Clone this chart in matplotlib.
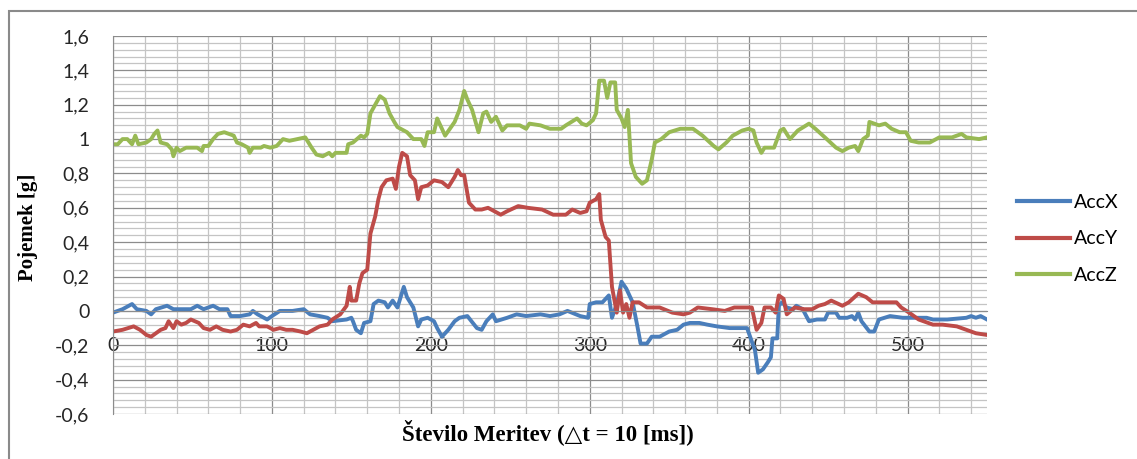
import matplotlib
matplotlib.use('Agg')
import matplotlib.pyplot as plt
from matplotlib.ticker import MultipleLocator, FuncFormatter
from matplotlib.patches import Rectangle

# vrednosti odčitane iz slike (indeks meritve, pospešek v g)
accx_idx = [0, 6, 12, 15, 21, 24, 27, 34, 38, 44, 49, 53, 57, 63, 67, 72, 74, 80, 86, 88,
            91, 97, 100, 105, 113, 120, 124, 130, 135, 138, 147, 150, 151, 153, 156, 158, 162, 164, 167, 171,
            173, 176, 179, 183, 185, 189, 192, 194, 198, 202, 204, 207, 211, 215, 218, 223, 229, 232, 235, 239,
            241, 248, 254, 260, 269, 275, 281, 286, 294, 299, 300, 304, 308, 312, 314, 317, 320, 323, 327, 330,
            332, 336, 339, 344, 350, 355, 359, 363, 369, 374, 380, 388, 399, 404, 406, 409, 412, 414, 415, 418,
            419, 421, 424, 428, 430, 434, 438, 443, 448, 450, 455, 457, 462, 465, 467, 469, 471, 476, 479, 482,
            489, 497, 512, 516, 525, 537, 540, 543, 546, 550]
accx = [-0.01, 0.01, 0.04, 0.01, 0.0, -0.02, 0.01, 0.03, 0.01, 0.01, 0.01, 0.03, 0.01, 0.03, 0.01, 0.01, -0.03, -0.03, -0.02, 0.0,
        -0.02, -0.05, -0.03, 0.0, 0.0, 0.01, -0.02, -0.03, -0.04, -0.06, -0.05, -0.04, -0.06, -0.11, -0.13, -0.07, -0.06, 0.04, 0.06, 0.05,
        0.02, 0.06, 0.02, 0.14, 0.08, 0.02, -0.09, -0.05, -0.04, -0.06, -0.10, -0.15, -0.11, -0.06, -0.04, -0.03, -0.10, -0.11, -0.06, -0.02,
        -0.06, -0.04, -0.02, -0.03, -0.02, -0.03, -0.02, 0.0, -0.03, -0.04, 0.04, 0.05, 0.05, 0.09, -0.04, 0.04, 0.17, 0.13, 0.05, -0.09,
        -0.19, -0.19, -0.15, -0.15, -0.12, -0.11, -0.08, -0.07, -0.07, -0.08, -0.09, -0.10, -0.10, -0.23, -0.36, -0.34, -0.30, -0.27, -0.16, -0.16,
        0.03, 0.05, 0.02, 0.01, 0.03, 0.01, -0.06, -0.05, -0.05, -0.01, -0.01, -0.04, -0.04, -0.03, -0.05, -0.01, -0.06, -0.12, -0.12, -0.05,
        -0.03, -0.04, -0.04, -0.05, -0.05, -0.04, -0.03, -0.04, -0.03, -0.05]

accy_idx = [0, 6, 13, 17, 21, 24, 27, 30, 33, 35, 38, 40, 43, 46, 49, 54, 57, 61, 65, 69,
            74, 78, 82, 86, 90, 92, 97, 101, 105, 109, 113, 118, 122, 126, 130, 135, 138, 143, 147, 149,
            150, 153, 155, 157, 160, 162, 165, 167, 169, 172, 176, 178, 180, 182, 185, 187, 190, 192, 194, 198,
            202, 207, 211, 215, 217, 219, 221, 224, 228, 232, 236, 240, 244, 248, 255, 261, 270, 277, 285, 289,
            294, 298, 300, 304, 306, 307, 310, 312, 314, 317, 319, 321, 323, 325, 327, 331, 336, 344, 352, 359,
            363, 368, 377, 385, 391, 399, 402, 405, 408, 410, 414, 417, 419, 422, 424, 429, 435, 440, 444, 448,
            452, 459, 463, 469, 474, 478, 484, 493, 496, 501, 507, 516, 522, 531, 537, 543, 550]
accy = [-0.12, -0.11, -0.09, -0.11, -0.14, -0.15, -0.13, -0.11, -0.10, -0.06, -0.10, -0.06, -0.08, -0.07, -0.05, -0.07, -0.10, -0.11, -0.09, -0.11,
        -0.12, -0.11, -0.08, -0.09, -0.07, -0.09, -0.09, -0.11, -0.10, -0.11, -0.11, -0.12, -0.13, -0.11, -0.09, -0.08, -0.05, -0.02, 0.03, 0.14,
        0.06, 0.06, 0.16, 0.22, 0.24, 0.45, 0.55, 0.65, 0.72, 0.76, 0.77, 0.71, 0.84, 0.92, 0.90, 0.79, 0.76, 0.65, 0.72, 0.73,
        0.76, 0.75, 0.72, 0.78, 0.82, 0.79, 0.79, 0.63, 0.59, 0.59, 0.60, 0.58, 0.56, 0.58, 0.61, 0.60, 0.59, 0.56, 0.56, 0.59,
        0.57, 0.58, 0.63, 0.65, 0.68, 0.53, 0.43, 0.41, 0.14, -0.01, 0.12, -0.01, 0.04, -0.04, 0.05, 0.05, 0.02, 0.02, -0.01, -0.02,
        -0.01, 0.02, 0.01, 0.0, 0.02, 0.02, 0.02, -0.11, -0.07, 0.02, 0.02, -0.01, 0.09, 0.07, -0.02, 0.02, 0.01, 0.01, 0.03, 0.04,
        0.06, 0.03, 0.05, 0.10, 0.08, 0.05, 0.05, 0.05, 0.02, -0.01, -0.05, -0.08, -0.08, -0.09, -0.11, -0.13, -0.14]

accz_idx = [0, 3, 6, 9, 12, 14, 16, 21, 24, 26, 28, 30, 34, 37, 38, 40, 42, 46, 53, 56,
            57, 60, 63, 66, 70, 76, 78, 81, 85, 86, 88, 93, 95, 99, 103, 107, 111, 116, 121, 125,
            128, 132, 136, 138, 140, 147, 148, 151, 156, 158, 160, 162, 165, 168, 171, 174, 177, 179, 185, 189,
            194, 196, 198, 202, 204, 209, 212, 215, 218, 221, 223, 226, 230, 233, 235, 238, 241, 245, 248, 256,
            260, 262, 269, 275, 282, 285, 292, 295, 298, 302, 304, 306, 309, 311, 313, 316, 317, 320, 322, 324,
            326, 329, 333, 336, 339, 341, 345, 350, 357, 365, 371, 378, 381, 386, 390, 396, 400, 403, 405, 408,
            410, 416, 420, 422, 426, 431, 438, 442, 448, 455, 459, 463, 467, 469, 472, 475, 476, 482, 486, 490,
            495, 499, 502, 507, 514, 520, 528, 534, 537, 545, 550]
accz = [0.97, 0.97, 1.0, 1.0, 0.97, 1.02, 0.97, 0.98, 1.0, 1.03, 1.05, 0.98, 0.97, 0.94, 0.90, 0.95, 0.93, 0.95, 0.95, 0.93,
        0.96, 0.96, 1.0, 1.03, 1.04, 1.02, 0.98, 0.97, 0.95, 0.92, 0.95, 0.95, 0.96, 0.95, 0.96, 1.0, 0.99, 1.0, 1.01, 0.95,
        0.91, 0.90, 0.92, 0.90, 0.92, 0.92, 0.97, 0.98, 1.02, 1.01, 1.03, 1.15, 1.20, 1.25, 1.23, 1.15, 1.10, 1.07, 1.04, 1.0,
        1.0, 0.96, 1.04, 1.04, 1.12, 1.02, 1.06, 1.10, 1.17, 1.28, 1.23, 1.17, 1.04, 1.15, 1.16, 1.10, 1.13, 1.05, 1.08, 1.08,
        1.06, 1.09, 1.08, 1.06, 1.06, 1.08, 1.12, 1.09, 1.08, 1.11, 1.15, 1.34, 1.34, 1.24, 1.33, 1.33, 1.17, 1.12, 1.07, 1.17,
        0.86, 0.78, 0.74, 0.76, 0.88, 0.98, 1.0, 1.04, 1.06, 1.06, 1.02, 0.96, 0.94, 0.98, 1.02, 1.05, 1.06, 1.05, 0.98, 0.92,
        0.95, 0.95, 1.05, 1.06, 1.0, 1.05, 1.09, 1.06, 1.01, 0.95, 0.93, 0.95, 0.96, 0.93, 1.0, 1.02, 1.10, 1.08, 1.09, 1.06,
        1.04, 1.04, 0.99, 0.98, 0.98, 1.01, 1.01, 1.03, 1.01, 1.0, 1.01]

labels = ['AccX', 'AccY', 'AccZ']
xticks = [0, 100, 200, 300, 400, 500]

fig = plt.figure(figsize=(11.37, 4.59), dpi=100)
ax = fig.add_axes([113 / 1137, 1 - 414 / 459, (987 - 113) / 1137, (414 - 36) / 459])

# okvir grafa
fig.patches.append(Rectangle((9 / 1137, -0.1), 1.2, 1 - 11 / 459 + 0.1, transform=fig.transFigure,
                             fill=False, edgecolor='#8a8a8a', linewidth=1.5))

ax.plot(accx_idx, accx, color='#4a7ebb', lw=2.8, label=labels[0], solid_joinstyle='round')
ax.plot(accy_idx, accy, color='#be4b48', lw=2.8, label=labels[1], solid_joinstyle='round')
ax.plot(accz_idx, accz, color='#98b954', lw=2.8, label=labels[2], solid_joinstyle='round')

ax.set_xlim(0, 550)
ax.set_ylim(-0.6, 1.6)
ax.set_xticks(xticks)
ax.xaxis.set_minor_locator(MultipleLocator(20))
ax.yaxis.set_major_locator(MultipleLocator(0.2))
ax.yaxis.set_minor_locator(MultipleLocator(0.04))
ax.grid(which='major', color='#8c8c8c', lw=0.9)
ax.grid(which='minor', color='#c4c4c4', lw=0.9)
ax.set_axisbelow(True)

for s in ['top', 'right']:
    ax.spines[s].set_visible(False)
ax.spines['left'].set_color('#8c8c8c')
ax.spines['bottom'].set_position(('data', 0))
ax.spines['bottom'].set_color('#8c8c8c')

ax.tick_params(which='both', length=0)
ax.tick_params(axis='y', pad=17, labelsize=14, labelcolor='#262626')
ax.tick_params(axis='x', pad=19, labelsize=14, labelcolor='#262626')
for t in ax.get_xticklabels() + ax.get_yticklabels():
    t.set_family('Lato')
ax.yaxis.set_major_formatter(FuncFormatter(lambda v, p: ('%g' % round(v, 2)).replace('.', ',')))

fig.text(28 / 1137, 1 - 227 / 459, 'Pojemek [g]', rotation=90, ha='center', va='center',
         fontsize=15, fontweight='bold', family=['Liberation Serif', 'DejaVu Serif'])
fig.text(548 / 1137, 1 - 432 / 459, 'Število Meritev (△t = 10 [ms])', ha='center', va='center',
         fontsize=16.5, fontweight='bold', family=['Liberation Serif', 'DejaVu Serif'])

leg = ax.legend(loc='center left', bbox_to_anchor=(1017 / 1137, 1 - 239 / 459),
                bbox_transform=fig.transFigure, frameon=False, borderpad=0, borderaxespad=0,
                handlelength=2.7, handletextpad=0.25, labelspacing=1.0,
                prop={'family': 'Lato', 'size': 14})
for l in leg.get_lines():
    l.set_linewidth(3)

fig.savefig('out.png', dpi=100)
